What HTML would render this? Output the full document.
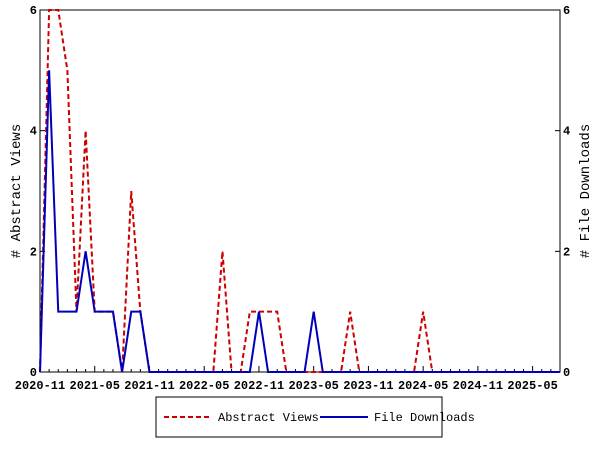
<!DOCTYPE html>
<html><head><meta charset="utf-8"><style>
body{margin:0;background:#fff;}
svg text{font-family:"Liberation Mono",monospace;font-size:12px;font-weight:bold;}
</style></head><body>
<svg width="600" height="450">
<g id="axes"></g>
<g id="series"></g>
<rect x="156" y="397" width="286" height="40" fill="#fff" stroke="#000"/>
<line x1="164" y1="417" x2="212" y2="417" stroke="#c00" stroke-width="2" stroke-dasharray="5,3"/>
<text x="218" y="421" style="font-weight:normal">Abstract Views</text>
<line x1="320" y1="417" x2="368" y2="417" stroke="#0000bb" stroke-width="2"/>
<text x="374" y="421" style="font-weight:normal">File Downloads</text>
<text transform="translate(20,191) rotate(-90)" text-anchor="middle" style="font-size:14px;font-weight:normal"># Abstract Views</text>
<text transform="translate(589,191) rotate(-90)" text-anchor="middle" style="font-size:14px;font-weight:normal"># File Downloads</text>
</svg>
<script>
const tickLabels=["2020-11","2021-05","2021-11","2022-05","2022-11","2023-05","2023-11","2024-05","2024-11","2025-05"];
const yTicks=[0,2,4,6];
const abstractViews=[0,6,6,5,1,4,1,1,1,0,3,1,0,0,0,0,0,0,0,0,2,0,0,1,1,1,1,0,0,0,0,0,0,0,1,0,0,0,0,0,0,0,1,0,0,0,0,0,0,0,0,0,0,0,0,0,0,0];
const fileDownloads=[0,5,1,1,1,2,1,1,1,0,1,1,0,0,0,0,0,0,0,0,0,0,0,0,1,0,0,0,0,0,1,0,0,0,0,0,0,0,0,0,0,0,0,0,0,0,0,0,0,0,0,0,0,0,0,0,0,0];
const L=40,R=560,T=10,B=372,NM=57,YMAX=6;
const xs=m=>L+(R-L)*m/NM;
const ys=v=>B-(B-T)*v/YMAX;
const NS="http://www.w3.org/2000/svg";
function mk(tag,attrs,parent){const e=document.createElementNS(NS,tag);for(const k in attrs)e.setAttribute(k,attrs[k]);parent.appendChild(e);return e;}
const ax=document.getElementById('axes'),sr=document.getElementById('series');
let f=mk('rect',{x:L,y:T,width:R-L,height:B-T,fill:'none',stroke:'#000'},ax);


for(let m=0;m<=NM;m++){
  const big=m%6===0;
  const t=mk('line',{x1:xs(m),x2:xs(m),y1:B,y2:B-(big?6:3),stroke:'#000'},ax);
  
  
}
tickLabels.forEach((s,i)=>{
  const t=mk('text',{x:xs(i*6),y:B+17,'text-anchor':'middle'},ax);t.textContent=s;
  
  
});
yTicks.forEach(v=>{
  const a=mk('line',{x1:L,x2:L+5,y1:ys(v),y2:ys(v),stroke:'#000'},ax);
  
  
  const b=mk('line',{x1:R-5,x2:R,y1:ys(v),y2:ys(v),stroke:'#000'},ax);
  
  
  const t1=mk('text',{x:L-3,y:ys(v)+4,'text-anchor':'end'},ax);t1.textContent=v;
  
  
  const t2=mk('text',{x:R+3,y:ys(v)+4},ax);t2.textContent=v;
  
  
});
const pv=abstractViews.map((v,i)=>xs(i)+','+ys(v)).join(' ');
const l1=mk('polyline',{points:pv,fill:'none',stroke:'#c00','stroke-width':2,'stroke-dasharray':'5,3'},sr);


const pd=fileDownloads.map((v,i)=>xs(i)+','+ys(v)).join(' ');
const l2=mk('polyline',{points:pd,fill:'none',stroke:'#0000bb','stroke-width':2},sr);


</script>
</body></html>
